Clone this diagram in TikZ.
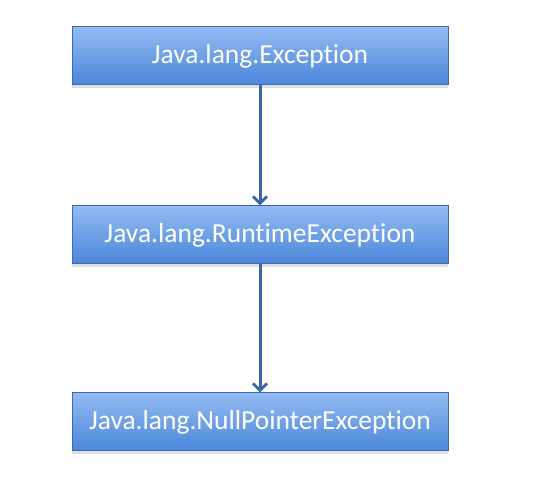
\documentclass[tikz,border=0pt]{standalone}
\usepackage{fontspec}
\setmainfont[Ligatures=NoCommon]{Carlito}
\usetikzlibrary{arrows.meta,shadows}
\definecolor{boxtop}{HTML}{93BBF2}
\definecolor{boxbot}{HTML}{4A86DA}
\definecolor{boxline}{HTML}{3B6BAE}
\definecolor{arrowcol}{HTML}{3A66A6}
\tikzset{
  classbox/.style={draw=boxline, line width=1pt, top color=boxtop, bottom color=boxbot,
    minimum width=376pt, minimum height=58pt, inner sep=0pt,
    font=\fontsize{27.5}{30}\selectfont, text=white,
    drop shadow={shadow xshift=0pt, shadow yshift=-3pt, opacity=0.25, fill=gray}},
  inherit/.style={draw=arrowcol, line width=3pt, -{Straight Barb[length=7pt,width=14pt,line width=3pt]}}
}
\begin{document}
\begin{tikzpicture}[x=1pt,y=1pt]
\useasboundingbox (0,0) rectangle (536,498);
\node[classbox] (exc) at (260,442) {Java.lang.Exception};
\node[classbox] (rte) at (260,263) {Java.lang.RuntimeException};
\node[classbox] (npe) at (260,76) {Java.lang.NullPointerException};
\draw[inherit] (exc.south) -- (rte.north);
\draw[inherit] (rte.south) -- (npe.north);
\end{tikzpicture}
\end{document}
